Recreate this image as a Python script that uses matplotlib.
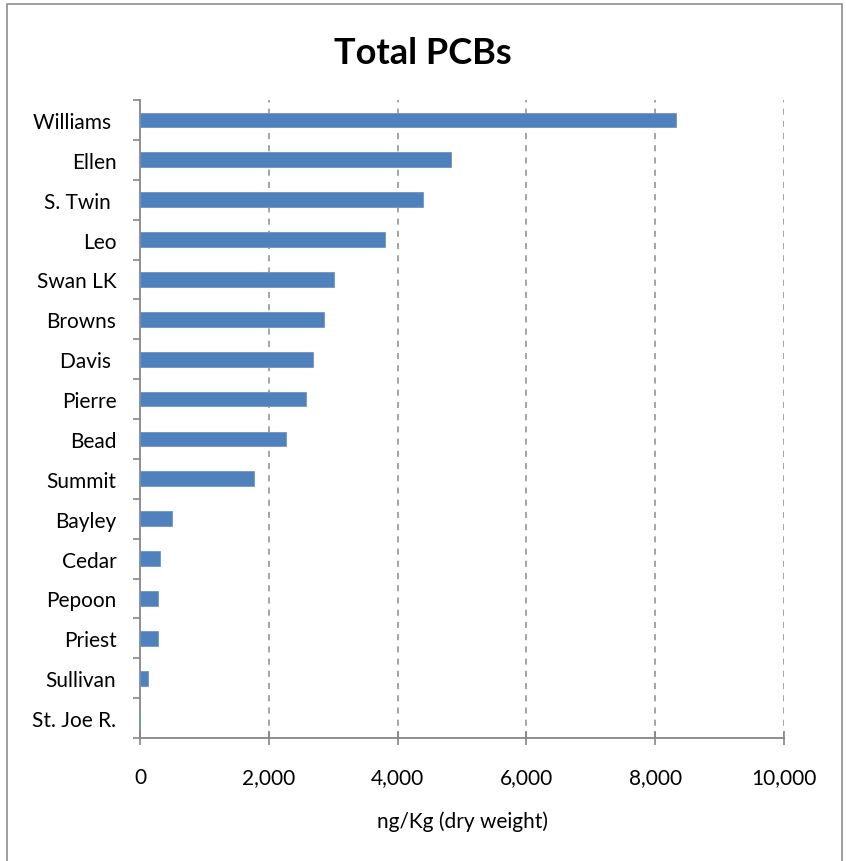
import numpy as np
import matplotlib.pyplot as plt
from matplotlib.patches import Rectangle

plt.rcParams['font.family'] = ['Lato', 'DejaVu Sans']

lakes = ["Williams ", "Ellen", "S. Twin ", "Leo", "Swan LK", "Browns", "Davis ",
         "Pierre", "Bead", "Summit", "Bayley", "Cedar", "Pepoon", "Priest",
         "Sullivan", "St. Joe R."]
pcbs = [8330, 4830, 4390, 3800, 3015, 2850, 2690, 2580, 2260, 1770,
        500, 313, 287, 287, 120, 5]
xticks = [0, 2000, 4000, 6000, 8000, 10000]

W, H = 846, 862
fig = plt.figure(figsize=(W / 100, H / 100), dpi=100)
ax = fig.add_axes([140 / W, 1 - 739 / H, (784 - 140) / W, (739 - 101) / H])

# outer chart frame
fig.patches.append(Rectangle((7 / W, -0.05), (842 - 7) / W, 1.05 - 5 / H,
                             transform=fig.transFigure, fill=False,
                             edgecolor='#8c8c8c', linewidth=1.2))

y = np.arange(len(lakes))
ax.barh(y, pcbs, height=0.37, color='#4f81bd', edgecolor='#6f96c8',
        linewidth=0.6, zorder=3)
ax.set_ylim(len(lakes) - 0.5, -0.5)
ax.set_xlim(0, 10000)

ax.set_xticks(xticks)
ax.set_xticklabels([f"{v:,}" for v in xticks], fontsize=15)
ax.set_yticks(y)
ax.set_yticklabels(lakes, fontsize=15)
ax.set_yticks(np.arange(len(lakes) + 1) - 0.5, minor=True)
ax.tick_params(axis='y', which='major', length=0, pad=17)
ax.tick_params(axis='y', which='minor', length=5, color='#868686', width=1.2)
ax.tick_params(axis='x', which='major', direction='inout', length=10,
               color='#868686', width=1.2, pad=16)

for v in xticks[1:]:
    ax.axvline(v, color='#8c8c8c', linestyle=(0, (4, 4)), linewidth=1.1, zorder=1)

for s in ['top', 'right']:
    ax.spines[s].set_visible(False)
for s in ['left', 'bottom']:
    ax.spines[s].set_color('#868686')
    ax.spines[s].set_linewidth(1.3)

ax.set_xlabel("ng/Kg (dry weight)", fontsize=15, labelpad=17)
fig.text(0.5, 1 - 53 / H, "Total PCBs", fontsize=26,
         fontweight='bold', ha='center', va='center')

fig.savefig("out.png", dpi=100)
